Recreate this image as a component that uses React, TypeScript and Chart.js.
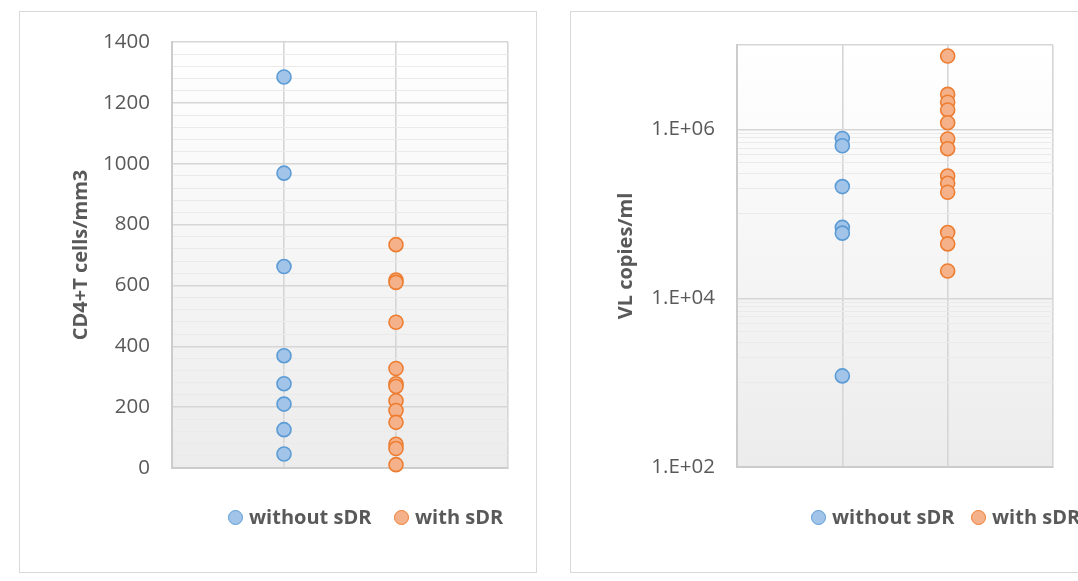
import React, { useEffect, useRef } from "react";
import { Chart, registerables } from "chart.js";

Chart.register(...registerables);
Chart.defaults.font.family = "'Open Sans', sans-serif";

// ---------- data ----------
const categories = ["without sDR", "with sDR"];
const cd4Without = [1285, 969, 662, 369, 277, 210, 126, 46];
const cd4With = [734, 618, 610, 479, 327, 277, 268, 221, 189, 150, 78, 64, 11];
const vlWithout = [780000, 640000, 210000, 69000, 59000, 1200];
const vlWith = [7400000, 2600000, 2100000, 1700000, 1200000, 770000, 590000, 280000, 230000, 180000, 60000, 44000, 21000];

const cd4MajorTicks = [0, 200, 400, 600, 800, 1000, 1200, 1400];
const cd4MinorStep = 40;
const vlMajorTicks = [100, 10000, 1000000];
const vlTickLabels = ["1.E+02", "1.E+04", "1.E+06"];
const vlMinorTicks = [1000, 2000, 3000, 4000, 5000, 6000, 7000, 8000, 9000, 100000, 200000, 300000, 400000, 500000, 600000, 700000, 800000, 900000];
const vlMax = 10000000;

// ---------- styles ----------
const TEXT = "#595959";
const BLUE_FILL = "#a2c4e9";
const BLUE_LINE = "#5b9bd5";
const ORANGE_FILL = "#f5b28a";
const ORANGE_LINE = "#ed7d31";
const MAJOR_GRID = "#d6d6d6";
const MINOR_GRID = "#eaeaea";
const AXIS_LINE = "#cccccc";

const plotBg = {
  id: "plotBg",
  beforeDraw(chart: any) {
    const { ctx, chartArea: a } = chart;
    const g = ctx.createLinearGradient(0, a.top, 0, a.bottom);
    g.addColorStop(0, "#ffffff");
    g.addColorStop(1, "#ececec");
    ctx.save();
    ctx.fillStyle = g;
    ctx.fillRect(a.left, a.top, a.width, a.height);
    ctx.restore();
  },
};

function pointDataset(label: string, values: number[], xPos: number, fill: string, line: string) {
  return {
    label,
    data: values.map((v) => ({ x: xPos, y: v })),
    backgroundColor: fill,
    borderColor: line,
    pointRadius: 7,
    pointBorderWidth: 1.6,
    clip: false as any,
  };
}

function xScale() {
  return {
    type: "linear",
    min: 0,
    max: 3,
    afterBuildTicks: (s: any) => {
      s.ticks = [0, 1, 2, 3].map((v) => ({ value: v }));
    },
    afterFit: (s: any) => {
      s.height = 0;
    },
    ticks: { display: false },
    grid: {
      drawTicks: false,
      color: (c: any) => (c.tick && c.tick.value === 0 ? "rgba(0,0,0,0)" : MAJOR_GRID),
      lineWidth: 1.6,
    },
    border: { display: true, color: AXIS_LINE, width: 2 },
  };
}

function leftConfig(): any {
  const grid: number[] = [];
  for (let v = 0; v <= 1400; v += cd4MinorStep) grid.push(v);
  return {
    type: "scatter",
    data: {
      datasets: [
        pointDataset(categories[0], cd4Without, 1, BLUE_FILL, BLUE_LINE),
        pointDataset(categories[1], cd4With, 2, ORANGE_FILL, ORANGE_LINE),
      ],
    },
    options: {
      animation: false,
      responsive: false,
      events: [],
      layout: { padding: { left: 60, right: 32, top: 42, bottom: 113 } },
      plugins: { legend: { display: false }, tooltip: { enabled: false } },
      scales: {
        x: xScale(),
        y: {
          type: "linear",
          min: 0,
          max: 1400,
          afterBuildTicks: (s: any) => {
            s.ticks = grid.map((v) => ({ value: v }));
          },
          afterFit: (s: any) => {
            s.width = 112;
          },
          ticks: {
            autoSkip: false,
            padding: 22,
            color: TEXT,
            font: { size: 20.5 },
            callback: (v: any) => (cd4MajorTicks.includes(v) ? String(v) : ""),
          },
          grid: {
            drawTicks: false,
            color: (c: any) => (c.tick && cd4MajorTicks.includes(c.tick.value) ? MAJOR_GRID : MINOR_GRID),
            lineWidth: (c: any) => (c.tick && cd4MajorTicks.includes(c.tick.value) ? 1.4 : 1),
          },
          border: { display: true, color: AXIS_LINE, width: 2 },
          title: {
            display: true,
            text: "CD4+T cells/mm3",
            color: TEXT,
            font: { size: 20, weight: "bold" },
            padding: { top: 9, bottom: 0 },
          },
        },
      },
    },
    plugins: [plotBg],
  };
}

function rightConfig(): any {
  const grid = [...vlMajorTicks, ...vlMinorTicks, vlMax].sort((a, b) => a - b);
  const isMajor = (v: number) => vlMajorTicks.includes(v) || v === vlMax;
  return {
    type: "scatter",
    data: {
      datasets: [
        pointDataset(categories[0], vlWithout, 1, BLUE_FILL, BLUE_LINE),
        pointDataset(categories[1], vlWith, 2, ORANGE_FILL, ORANGE_LINE),
      ],
    },
    options: {
      animation: false,
      responsive: false,
      events: [],
      layout: { padding: { left: 66, right: 25, top: 45, bottom: 114 } },
      plugins: { legend: { display: false }, tooltip: { enabled: false } },
      scales: {
        x: xScale(),
        y: {
          type: "logarithmic",
          min: 100,
          max: vlMax,
          afterBuildTicks: (s: any) => {
            s.ticks = grid.map((v) => ({ value: v }));
          },
          afterFit: (s: any) => {
            s.width = 132;
          },
          ticks: {
            autoSkip: false,
            padding: 22,
            color: TEXT,
            font: { size: 20.5 },
            callback: (v: any) => {
              const i = vlMajorTicks.indexOf(v);
              return i >= 0 ? vlTickLabels[i] : "";
            },
          },
          grid: {
            drawTicks: false,
            color: (c: any) => (c.tick && isMajor(c.tick.value) ? MAJOR_GRID : MINOR_GRID),
            lineWidth: (c: any) => (c.tick && isMajor(c.tick.value) ? 1.4 : 1),
          },
          border: { display: true, color: AXIS_LINE, width: 2 },
          title: {
            display: true,
            text: "VL copies/ml",
            color: TEXT,
            font: { size: 20, weight: "bold" },
            padding: { top: 9, bottom: 0 },
          },
        },
      },
    },
    plugins: [plotBg],
  };
}

function ChartCanvas({ config, left, width }: { config: () => any; left: number; width: number }) {
  const ref = useRef<HTMLCanvasElement>(null);
  useEffect(() => {
    if (!ref.current) return;
    const chart = new Chart(ref.current, config());
    return () => chart.destroy();
  }, []);
  return (
    <canvas
      ref={ref}
      width={width}
      height={581}
      style={{ position: "absolute", left, top: 0, width, height: 581 }}
    />
  );
}

function LegendItem({ x, label, fill, line }: { x: number; label: string; fill: string; line: string }) {
  return (
    <>
      <div
        style={{
          position: "absolute",
          left: x - 7.5,
          top: 517 - 7.5,
          width: 15,
          height: 15,
          boxSizing: "border-box",
          borderRadius: "50%",
          background: fill,
          border: `1.6px solid ${line}`,
        }}
      />
      <span
        style={{
          position: "absolute",
          left: x + 14,
          top: 507,
          lineHeight: "20px",
          fontSize: 20,
          fontWeight: 700,
          fontFamily: "'Open Sans', sans-serif",
          color: TEXT,
          whiteSpace: "nowrap",
        }}
      >
        {label}
      </span>
    </>
  );
}

export default function App() {
  return (
    <div
      style={{
        position: "fixed",
        left: 0,
        top: 0,
        width: 1078,
        height: 581,
        overflow: "hidden",
        background: "#ffffff",
      }}
    >
      <div style={{ position: "absolute", left: 19, top: 11, width: 518, height: 562, boxSizing: "border-box", border: "1px solid #d9d9d9" }} />
      <div style={{ position: "absolute", left: 570, top: 11, width: 530, height: 562, boxSizing: "border-box", border: "1px solid #d9d9d9" }} />
      <ChartCanvas config={leftConfig} left={0} width={540} />
      <ChartCanvas config={rightConfig} left={539} width={539} />
      <LegendItem x={235} label={categories[0]} fill={BLUE_FILL} line={BLUE_LINE} />
      <LegendItem x={401} label={categories[1]} fill={ORANGE_FILL} line={ORANGE_LINE} />
      <LegendItem x={818} label={categories[0]} fill={BLUE_FILL} line={BLUE_LINE} />
      <LegendItem x={978} label={categories[1]} fill={ORANGE_FILL} line={ORANGE_LINE} />
    </div>
  );
}
